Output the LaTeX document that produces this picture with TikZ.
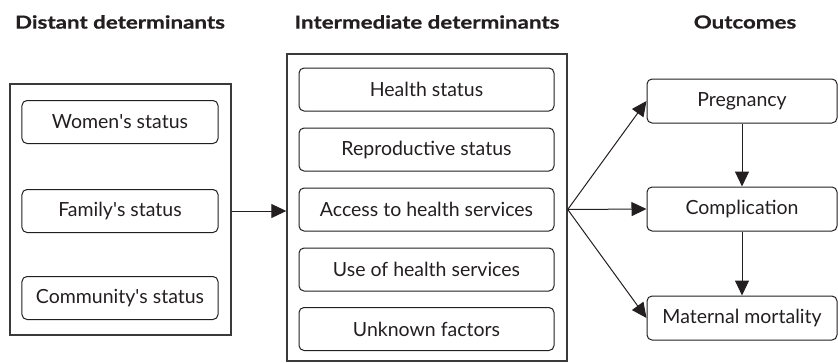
\documentclass[tikz,border=0pt]{standalone}
\usepackage{fontspec}
\setmainfont{Lato}
\newfontfamily\ttlfont{Lato}[FakeStretch=1.24,BoldFeatures={FakeBold=0.7}]
\usetikzlibrary{arrows.meta,calc}
\definecolor{ink}{HTML}{231F20}
\definecolor{lin}{HTML}{3A3A3A}
\begin{document}
\begin{tikzpicture}[x=1bp,y=-1bp,
  inbox/.style={draw=ink,line width=1bp,rounded corners=5bp,text=ink,
    font=\fontsize{19.5bp}{22bp}\selectfont,inner sep=0pt},
  outbox/.style={draw=lin,line width=1.4bp,inner sep=0pt},
  ttl/.style={text=ink,font=\ttlfont\fontsize{18bp}{21bp}\selectfont\bfseries},
  arr/.style={draw=ink,line width=1bp,-{Triangle[length=15bp,width=14bp]}}]
\useasboundingbox (0,0) rectangle (838,362);
% titles
\node[ttl] (t1) at (120,22) {Distant determinants};
\node[ttl] (t2) at (427,22) {Intermediate determinants};
\node[ttl] (t3) at (745,22) {Outcomes};
% outer boxes
\node[outbox,minimum width=221bp,minimum height=251bp] (left) at (120.5,209.5) {};
\node[outbox,minimum width=280bp,minimum height=307bp] (mid) at (427,207.5) {};
% left inner
\node[inbox,minimum width=196bp,minimum height=43bp] (women) at (120,122) {Women\textquotesingle s status};
\node[inbox,minimum width=196bp,minimum height=43bp] (family) at (120,211) {Family\textquotesingle s status};
\node[inbox,minimum width=196bp,minimum height=43bp] (comm) at (120,298) {Community\textquotesingle s status};
% middle inner
\node[inbox,minimum width=255bp,minimum height=43bp] (health) at (426.5,89.5) {Health status};
\node[inbox,minimum width=255bp,minimum height=43bp] (repro) at (426.5,149.5) {Reproductive status};
\node[inbox,minimum width=255bp,minimum height=43bp] (access) at (426.5,209.5) {Access to health services};
\node[inbox,minimum width=255bp,minimum height=43bp] (use) at (426.5,269.5) {Use of health services};
\node[inbox,minimum width=255bp,minimum height=43bp] (unk) at (426.5,329) {Unknown factors};
% right
\node[inbox,minimum width=190bp,minimum height=44bp] (preg) at (742,101) {Pregnancy};
\node[inbox,minimum width=190bp,minimum height=44bp] (compl) at (742,209) {Complication};
\node[inbox,minimum width=190bp,minimum height=44bp] (mat) at (742,318) {Maternal mortality};
% connectors
\coordinate (lout) at (left.east |- family);
\draw[arr] (lout) -- (mid.west |- lout);
\coordinate (fan) at (mid.east |- access);
\draw[arr] (fan) -- (preg.west);
\draw[arr] (fan) -- (compl.west);
\draw[arr] (fan) -- (mat.west);
\draw[arr] (preg.south) -- (compl.north);
\draw[arr] (compl.south) -- (mat.north);
\end{tikzpicture}
\end{document}
